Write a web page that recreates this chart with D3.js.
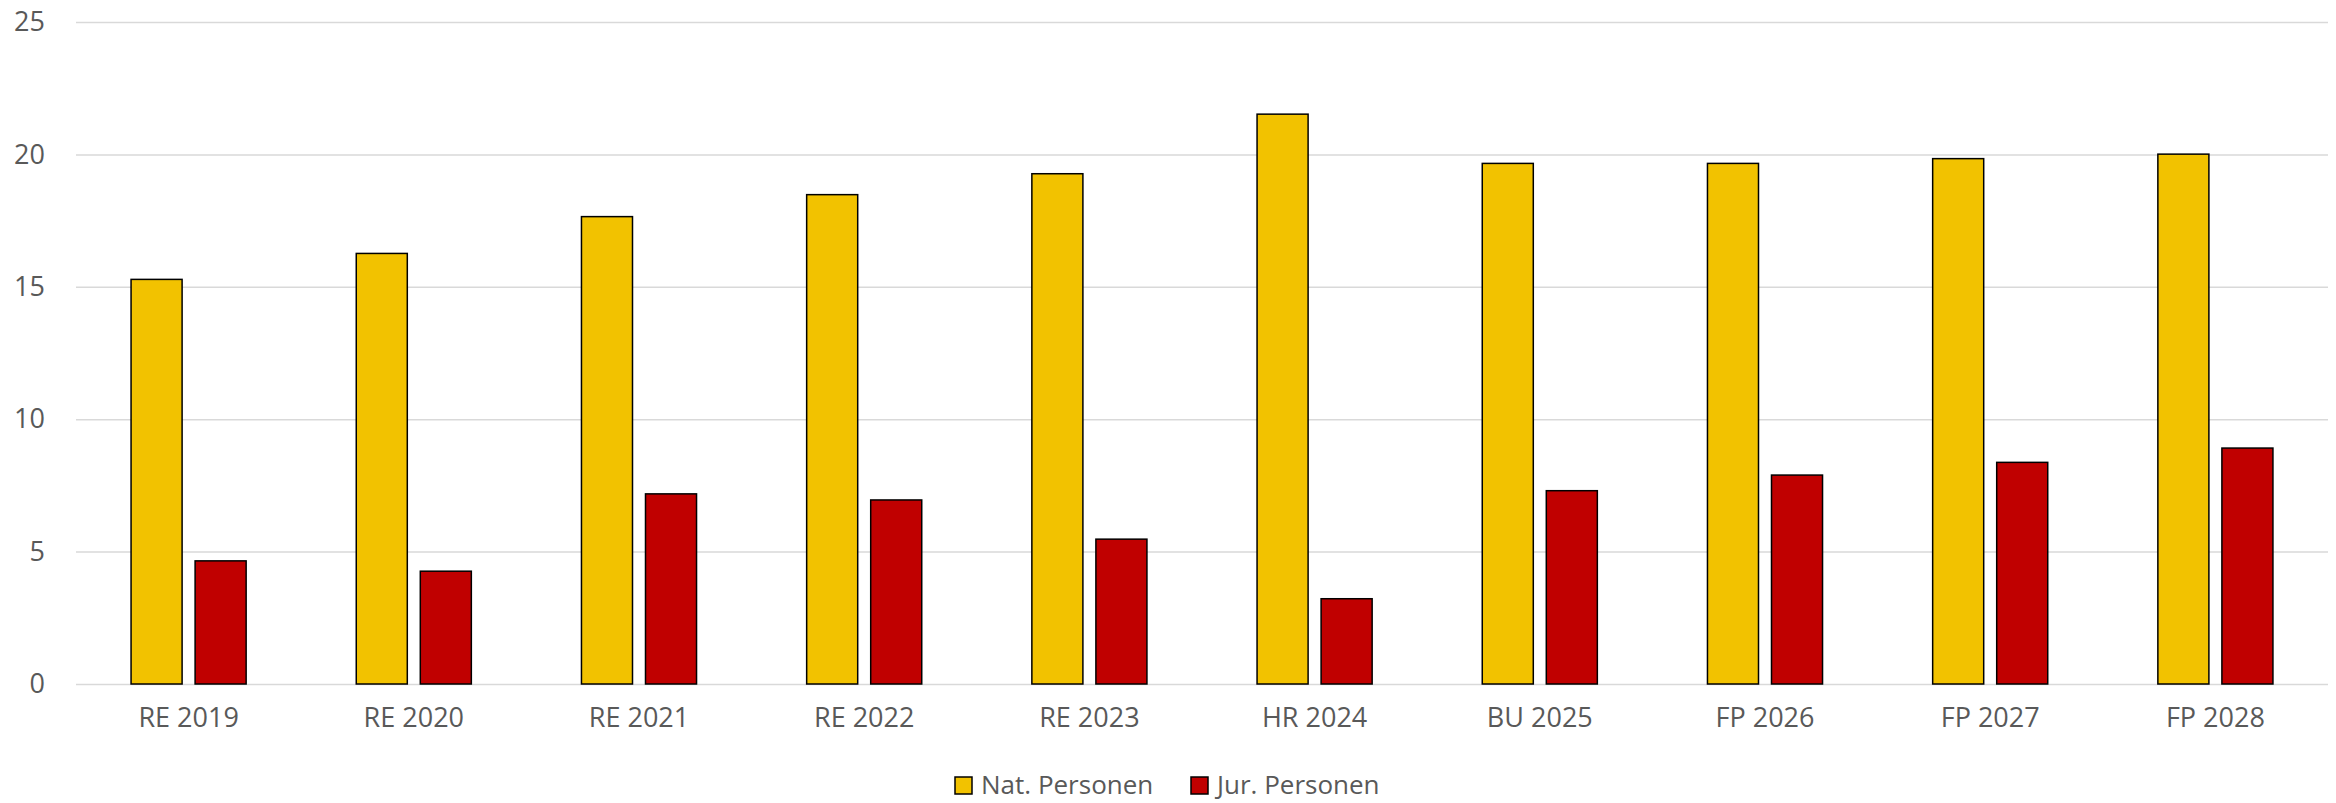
<!DOCTYPE html>
<html>
<head>
<meta charset="utf-8">
<script src="https://cdn.jsdelivr.net/npm/d3@7"></script>
<style>
  body { margin: 0; background: #fff; }
  text { font-family: "Open Sans", sans-serif; fill: #595959; }
</style>
</head>
<body>
<div id="chart"></div>
<script>
// Chart data
const categories = ["RE 2019", "RE 2020", "RE 2021", "RE 2022", "RE 2023", "HR 2024", "BU 2025", "FP 2026", "FP 2027", "FP 2028"];
const seriesNames = ["Nat. Personen", "Jur. Personen"];
const natPersonen = [15.28, 16.26, 17.65, 18.48, 19.27, 21.52, 19.66, 19.66, 19.84, 20.01];
const jurPersonen = [4.65, 4.26, 7.18, 6.95, 5.47, 3.22, 7.30, 7.89, 8.37, 8.91];
const yTicks = [0, 5, 10, 15, 20, 25];
const colors = ["#F2C200", "#C00000"];

const width = 2336;
const height = 803;
const margin = { top: 22, right: 8, bottom: 119, left: 76 };

const svg = d3.select("#chart")
    .append("svg")
        .attr("width", width)
        .attr("height", height);

// Build rows for grouped bars
const rows = categories.map((c, i) => ({ cat: c, values: [natPersonen[i], jurPersonen[i]] }));

const x0 = d3.scaleBand()
    .domain(categories)
    .range([margin.left, width - margin.right])
    .paddingInner(0.489)
    .paddingOuter(0.2445);

const x1 = d3.scaleBand()
    .domain(seriesNames)
    .range([0, x0.bandwidth()])
    .paddingInner(0.203);

const y = d3.scaleLinear()
    .domain([0, 25])
    .range([height - margin.bottom, margin.top]);

// Gridlines + y labels
const yAxis = svg.append("g")
    .attr("transform", `translate(${margin.left},0)`)
    .call(d3.axisLeft(y)
        .tickValues(yTicks)
        .tickSize(-(width - margin.left - margin.right))
        .tickPadding(31));
yAxis.select(".domain").remove();
yAxis.selectAll(".tick line")
    .attr("stroke", "#d9d9d9")
    .attr("stroke-width", 1.5);
yAxis.selectAll(".tick text")
    .style("font-size", "27px")
    .style("fill", "#595959")
    .style("font-family", "'Open Sans', sans-serif");

// Bars
const groups = svg.selectAll("g.group")
    .data(rows)
    .enter()
    .append("g")
        .attr("class", "group")
        .attr("transform", d => `translate(${x0(d.cat)},0)`);

groups.selectAll("rect")
    .data(d => d.values.map((v, j) => ({ key: seriesNames[j], value: v, j: j })))
    .enter()
    .append("rect")
        .attr("x", d => x1(d.key))
        .attr("y", d => y(d.value))
        .attr("width", x1.bandwidth())
        .attr("height", d => y(0) - y(d.value))
        .attr("fill", d => colors[d.j])
        .attr("stroke", "#000")
        .attr("stroke-width", 1.5);

// X labels
const xAxis = svg.append("g")
    .attr("transform", `translate(0,${y(0)})`)
    .call(d3.axisBottom(x0).tickSize(0).tickPadding(24));
xAxis.select(".domain").remove();
xAxis.selectAll(".tick text")
    .style("font-size", "27px")
    .style("fill", "#595959")
    .style("font-family", "'Open Sans', sans-serif");

// Legend
const legendItems = [
    { name: seriesNames[0], color: colors[0], x: 955 },
    { name: seriesNames[1], color: colors[1], x: 1191 }
];
const legend = svg.append("g").attr("transform", "translate(0,785)");
legend.selectAll("rect")
    .data(legendItems)
    .enter()
    .append("rect")
        .attr("x", d => d.x)
        .attr("y", -8)
        .attr("width", 17)
        .attr("height", 17)
        .attr("fill", d => d.color)
        .attr("stroke", "#000")
        .attr("stroke-width", 1.5);
legend.selectAll("text")
    .data(legendItems)
    .enter()
    .append("text")
        .attr("x", d => d.x + 26)
        .attr("y", 0)
        .attr("dy", "0.35em")
        .style("font-size", "26px")
        .text(d => d.name);
</script>
</body>
</html>
